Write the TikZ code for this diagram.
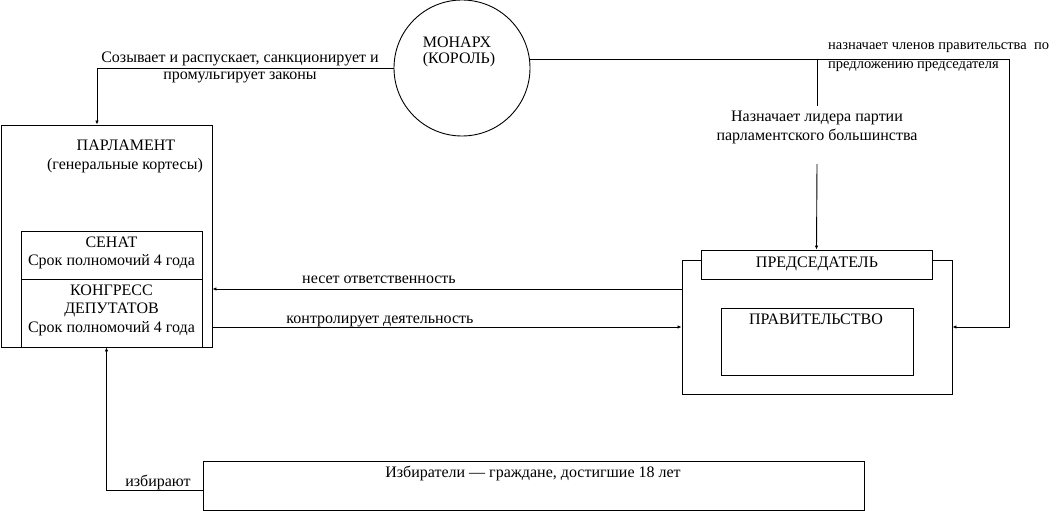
\documentclass[tikz,border=0pt]{standalone}
\usepackage{fontspec}
\setmainfont{Liberation Serif}
\usetikzlibrary{arrows.meta}
\tikzset{
  box/.style={draw, line width=0.9pt, rectangle, inner sep=0pt, fill=white},
  txt/.style={inner sep=0pt, font=\fontsize{16}{18}\selectfont, text depth=0pt},
  small/.style={inner sep=0pt, font=\fontsize{14.5}{18}\selectfont, anchor=west},
  conn/.style={line width=0.9pt},
  arr/.style={conn, -{Latex[length=4pt,width=3.5pt]}}
}
\begin{document}
\begin{tikzpicture}[x=1pt,y=-1pt]
\useasboundingbox (0,0) rectangle (1058,511);
% boxes
\node[box, minimum width=211pt, minimum height=222pt] (parl) at (106.5,236) {};
\node[box, minimum width=181pt, minimum height=48pt] (senate) at (111.5,255) {};
\node[box, minimum width=181pt, minimum height=68pt] (congress) at (111.5,313) {};
\node[draw, line width=0.9pt, circle, minimum size=136pt, inner sep=0pt] (monarch) at (462,68) {};
\node[box, minimum width=270pt, minimum height=134pt] (gov) at (817,327) {};
\node[box, minimum width=231pt, minimum height=29pt] (chair) at (816.5,264.5) {};
\node[box, minimum width=192pt, minimum height=67pt] (govt) at (817,341.5) {};
\node[box, minimum width=661pt, minimum height=49pt] (voters) at (533.5,485.5) {};
% texts
\node[txt] (tm1) at (457,42) {МОНАРХ};
\node[txt] (tm2) at (459,58) {(КОРОЛЬ)};
\node[txt] (tp1) at (126,145) {ПАРЛАМЕНТ};
\node[txt] (tp2) at (125,164) {(генеральные кортесы)};
\node[txt] (ts1) at (111.5,242) {СЕНАТ};
\node[txt] (ts2) at (111.5,260) {Срок полномочий 4 года};
\node[txt] (tc1) at (111.5,290) {КОНГРЕСС};
\node[txt] (tc2) at (111.5,308) {ДЕПУТАТОВ};
\node[txt] (tc3) at (111.5,327) {Срок полномочий 4 года};
\node[txt] (tch) at (817,262) {ПРЕДСЕДАТЕЛЬ};
\node[txt] (tgv) at (816,319) {ПРАВИТЕЛЬСТВО};
\node[txt] (tv) at (533,472) {Избиратели — граждане, достигшие 18 лет};
\node[txt] (l1a) at (240,57) {Созывает и распускает, санкционирует и};
\node[txt] (l1b) at (240,76) {промульгирует законы};
\node[small] (l2a) at (828,48) {назначает членов правительства \ по};
\node[small] (l2b) at (828,67) {предложению председателя};
\node[txt] (l3a) at (817,116) {Назначает лидера партии};
\node[txt] (l3b) at (817,135) {парламентского большинства};
\node[txt] (l4) at (379,280) {несет ответственность};
\node[txt] (l5) at (380,320) {контролирует деятельность};
\node[txt] (l6) at (158,481) {избирают};
% connectors
\coordinate (j1) at (817,59);
\coordinate (j2) at (817,106);
\coordinate (j3) at (817,164);
\draw[arr] (monarch.west) -| ([xshift=-9.5pt]parl.north);
\draw[arr] (monarch.7.6) -| ([xshift=57pt]gov.east) -- (gov.east);
\draw[conn] (j1) -- (j2);
\draw[arr] (j3) -- (chair.north);
\draw[arr] ([yshift=38pt]gov.west) -- ([yshift=-53pt]parl.east);
\draw[arr] ([yshift=-91pt]parl.east) -- (gov.west);
\draw[arr] ([yshift=-4.5pt]voters.west) -| (parl.south);
\end{tikzpicture}
\end{document}
